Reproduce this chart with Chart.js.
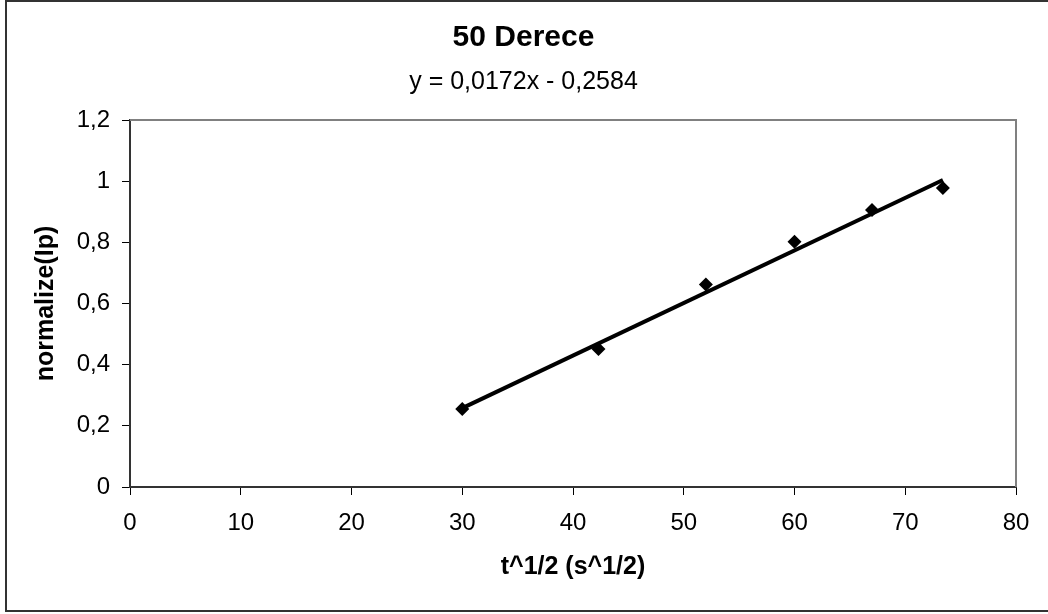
<!DOCTYPE html>
<html>
<head>
<meta charset="utf-8">
<script src="https://cdn.jsdelivr.net/npm/chart.js@4/dist/chart.umd.min.js"></script>
<style>
  html, body { margin: 0; padding: 0; background: #fff; }
  #wrap { width: 1048px; height: 614px; position: relative; }
</style>
</head>
<body>
<div id="wrap"><canvas id="chart"></canvas></div>
<script>
// measured points
const xValues = [30, 42.3, 52, 60, 67, 73.4];
const yValues = [0.255, 0.451, 0.662, 0.802, 0.906, 0.978];

// trendline ends as drawn (y = 0,0172x - 0,2584)
const trendX = [30, 73.4];
const trendY = [0.258, 1.004];

const yTickLabels = ['0', '0,2', '0,4', '0,6', '0,8', '1', '1,2'];
const xTickLabels = ['0', '10', '20', '30', '40', '50', '60', '70', '80'];

const chartTitle = '50 Derece';
const equationText = 'y = 0,0172x - 0,2584';
const xTitle = 't^1/2 (s^1/2)';
const yTitle = 'normalize(Ip)';

const FONT = "'Liberation Sans', Arial, sans-serif";

const frame = {
  id: 'frame',
  beforeDraw(chart) {
    const ctx = chart.ctx;
    ctx.save();
    ctx.fillStyle = '#fff';
    ctx.fillRect(0, 0, chart.width, chart.height);
    ctx.strokeStyle = '#333';
    ctx.lineWidth = 2;
    ctx.strokeRect(6, 1, chart.width + 20, 610);
    ctx.restore();
  },
  beforeDatasetsDraw(chart) {
    const {ctx, chartArea: {left, right, top, bottom}} = chart;
    ctx.save();
    ctx.strokeStyle = '#808080';
    ctx.lineWidth = 2;
    ctx.beginPath();
    ctx.moveTo(left, top);
    ctx.lineTo(right, top);
    ctx.lineTo(right, bottom);
    ctx.stroke();
    ctx.restore();
  }
};

const ctx = document.getElementById('chart').getContext('2d');
new Chart(ctx, {
  type: 'scatter',
  data: {
    datasets: [
      {
        label: 'points',
        data: xValues.map((x, i) => ({x: x, y: yValues[i]})),
        pointStyle: 'rectRot',
        pointRadius: 7,
        pointBackgroundColor: '#000',
        pointBorderColor: '#000',
        pointBorderWidth: 0,
        showLine: false
      },
      {
        label: 'trend',
        data: trendX.map((x, i) => ({x: x, y: trendY[i]})),
        showLine: true,
        borderColor: '#000',
        borderWidth: 4,
        pointRadius: 0
      }
    ]
  },
  options: {
    responsive: true,
    maintainAspectRatio: false,
    animation: false,
    devicePixelRatio: 1,
    layout: { padding: { left: 31, right: 32, top: 0, bottom: 0 } },
    plugins: {
      legend: { display: false },
      tooltip: { enabled: false },
      title: {
        display: true,
        text: chartTitle,
        color: '#000',
        font: { family: FONT, size: 30, weight: 'bold' },
        padding: { top: 20, bottom: 0 }
      },
      subtitle: {
        display: true,
        text: equationText,
        color: '#000',
        font: { family: FONT, size: 25 },
        padding: { top: 11, bottom: 23 }
      }
    },
    scales: {
      x: {
        type: 'linear',
        min: 0,
        max: 80,
        afterFit: (scale) => { scale.height = 127; },
        ticks: {
          stepSize: 10,
          color: '#000',
          font: { family: FONT, size: 24 },
          padding: 14,
          maxRotation: 0,
          callback: (v, i) => xTickLabels[i]
        },
        grid: {
          drawOnChartArea: false,
          drawTicks: true,
          tickLength: 8,
          tickColor: '#000',
          tickWidth: 1
        },
        border: { display: true, color: '#333', width: 2 },
        title: {
          display: true,
          text: xTitle,
          color: '#000',
          font: { family: FONT, size: 25, weight: 'bold' },
          padding: { top: 0, bottom: 32 }
        }
      },
      y: {
        type: 'linear',
        min: 0,
        max: 1.2,
        afterFit: (scale) => { scale.width = 99; },
        ticks: {
          stepSize: 0.2,
          color: '#000',
          font: { family: FONT, size: 24 },
          padding: 12,
          callback: (v, i) => yTickLabels[i]
        },
        grid: {
          drawOnChartArea: false,
          drawTicks: true,
          tickLength: 8,
          tickColor: '#000',
          tickWidth: 1
        },
        border: { display: true, color: '#333', width: 2 },
        title: {
          display: true,
          text: yTitle,
          color: '#000',
          font: { family: FONT, size: 25, weight: 'bold' },
          padding: { top: 0, bottom: 0 }
        }
      }
    }
  },
  plugins: [frame]
});
</script>
</body>
</html>
